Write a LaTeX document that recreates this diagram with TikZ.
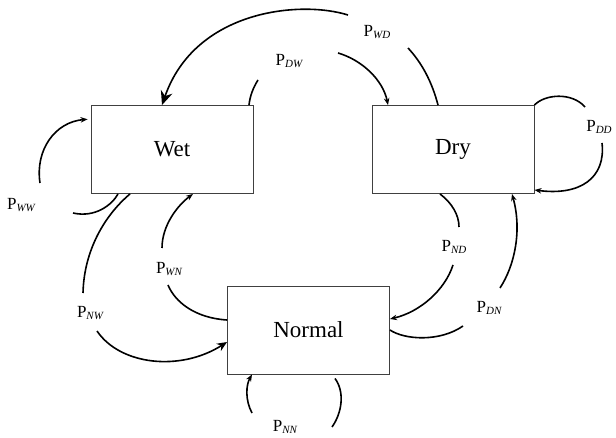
\documentclass[tikz,border=0pt]{standalone}
\usepackage{fontspec}
\setmainfont{Liberation Serif}
\usetikzlibrary{arrows.meta,calc}
\newcommand\tp[1]{P\raisebox{-1.5pt}{\fontsize{11}{11}\selectfont\itshape #1}}
\begin{document}
\begin{tikzpicture}[x=1pt,y=-1pt,
 state/.style={draw=black!75,line width=0.9pt,minimum width=162pt,minimum height=88pt,inner sep=0pt,font=\fontsize{23}{23}\selectfont},
 arc/.style={line width=1.6pt},
 tip/.style={-{Stealth[length=7pt,width=5.5pt]}},
 bigtip/.style={-{Stealth[length=14pt,width=12pt]}},
 midtip/.style={-{Stealth[length=10pt,width=8.5pt]}},
 lab/.style={inner sep=0pt,font=\fontsize{17}{17}\selectfont}]
\useasboundingbox (0,0) rectangle (616,438);
% states
\node[state] (wet) at (172,149.5) {Wet};
\node[state] (dry) at (453,149.5) {Dry};
\node[state] (normal) at (308.5,330) {Normal};
% free ends
\coordinate (wdA) at (408,48);  \coordinate (wdB) at (348,15);
\coordinate (dwA) at (258,80);  \coordinate (dwB) at (338,53);
\coordinate (ddA) at (585,107); \coordinate (ddB) at (602,143);
\coordinate (ndA) at (459,227); \coordinate (ndB) at (453,265);
\coordinate (dnA) at (463,326); \coordinate (dnB) at (500,288);
\coordinate (nnA) at (252,413); \coordinate (nnB) at (332,427);
\coordinate (wwA) at (40,183);  \coordinate (wwB) at (73,213);
\coordinate (nwA) at (83,293);  \coordinate (nwB) at (97,331);
\coordinate (wnA) at (168,285); \coordinate (wnB) at (162,248);
% P_WD
\draw[arc] ([xshift=-15pt]dry.north) .. controls (432,82) and (422,63) .. (wdA);
\draw[arc,bigtip] (wdB) .. controls (300,0) and (195,10) .. ([xshift=-10pt]wet.north);
% P_DW
\draw[arc] ([xshift=77pt]wet.north) .. controls (250,96) and (253,88) .. (dwA);
\draw[arc,tip] (dwB) .. controls (362,60) and (383,80) .. ([xshift=-65pt]dry.north);
% P_DD
\draw[arc] (dry.north east) .. controls (545,94) and (572,92) .. (ddA);
\draw[arc,tip] (ddB) .. controls (606,178) and (580,196) .. ([yshift=4pt]dry.south east);
% P_ND
\draw[arc] ([xshift=-13pt]dry.south) .. controls (452,203) and (459,215) .. (ndA);
\draw[arc,tip] (ndB) .. controls (445,290) and (420,312) .. ([yshift=11pt]normal.east);
% P_DN
\draw[arc] (normal.east) .. controls (405,340) and (440,342) .. (dnA);
\draw[arc,tip] (dnB) .. controls (515,265) and (522,230) .. ([xshift=59pt]dry.south);
% P_NN
\draw[arc,tip] (nnA) .. controls (245,400) and (246,385) .. ([xshift=-56.5pt]normal.south);
\draw[arc] ([xshift=26.5pt,yshift=-4pt]normal.south) .. controls (345,392) and (342,413) .. (nnB);
% P_WW
\draw[arc,tip,shorten >=3pt] (wwA) .. controls (35,150) and (55,122) .. ([yshift=30.5pt]wet.west);
\draw[arc] (wwB) .. controls (95,218) and (112,205) .. ([xshift=-54pt]wet.south);
% P_NW
\draw[arc] ([xshift=-42pt]wet.south) .. controls (105,215) and (84,250) .. (nwA);
\draw[arc,midtip] (nwB) .. controls (120,365) and (180,372) .. ([yshift=-12pt]normal.west);
% P_WN
\draw[arc] ([yshift=10pt]normal.west) .. controls (195,318) and (175,302) .. (wnA);
\draw[arc,tip] (wnB) .. controls (162,225) and (178,205) .. ([xshift=21pt]wet.south);
% labels
\node[lab] (lwd) at (377,32) {\tp{WD}};
\node[lab] (ldw) at (289,61) {\tp{DW}};
\node[lab] (ldd) at (599,127) {\tp{DD}};
\node[lab] (lww) at (21,205) {\tp{WW}};
\node[lab] (lwn) at (169,269) {\tp{WN}};
\node[lab] (lnw) at (90,313) {\tp{NW}};
\node[lab] (lnd) at (454,247) {\tp{ND}};
\node[lab] (ldn) at (489,308) {\tp{DN}};
\node[lab] (lnn) at (285,427) {\tp{NN}};
\end{tikzpicture}
\end{document}
